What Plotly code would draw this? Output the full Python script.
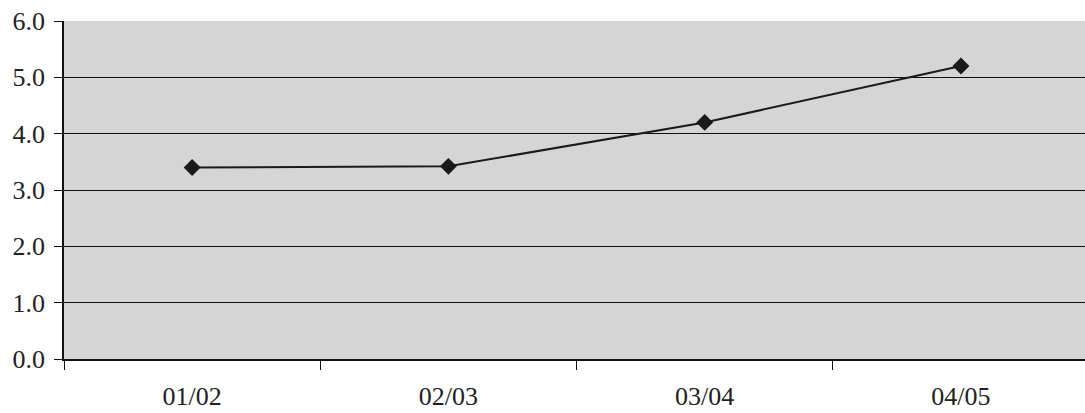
import plotly.graph_objects as go

# Season labels and the plotted values
seasons = ["01/02", "02/03", "03/04", "04/05"]
values = [3.4, 3.42, 4.2, 5.2]
y_ticks = [0, 1, 2, 3, 4, 5, 6]
y_tick_text = ["0.0", "1.0", "2.0", "3.0", "4.0", "5.0", "6.0"]

fig = go.Figure()
fig.add_trace(go.Scatter(
    x=seasons,
    y=values,
    mode="lines+markers",
    line=dict(color="#1a1a1a", width=2),
    marker=dict(symbol="diamond", size=13, color="#1a1a1a"),
    showlegend=False,
))

font = dict(family="'Liberation Serif', 'Times New Roman', serif", size=26, color="#222222")

fig.update_layout(
    width=1085,
    height=413,
    margin=dict(l=64, r=0, t=21, b=54),
    paper_bgcolor="white",
    plot_bgcolor="#d5d5d5",
    font=font,
    xaxis=dict(
        type="category",
        range=[-0.5, 3.484],
        showgrid=False,
        showline=True,
        linecolor="#111111",
        linewidth=2,
        ticks="outside",
        tickson="boundaries",
        ticklen=9,
        tickcolor="#111111",
        tickwidth=1,
        ticklabelstandoff=13,
        tickfont=font,
        zeroline=False,
    ),
    yaxis=dict(
        range=[0, 6],
        tickvals=y_ticks,
        ticktext=y_tick_text,
        showgrid=True,
        gridcolor="#111111",
        gridwidth=1,
        showline=True,
        linecolor="#111111",
        linewidth=1.5,
        ticks="outside",
        ticklen=8,
        tickcolor="#111111",
        ticklabelstandoff=4,
        tickfont=font,
        zeroline=False,
    ),
)

fig.write_html("out.html")
